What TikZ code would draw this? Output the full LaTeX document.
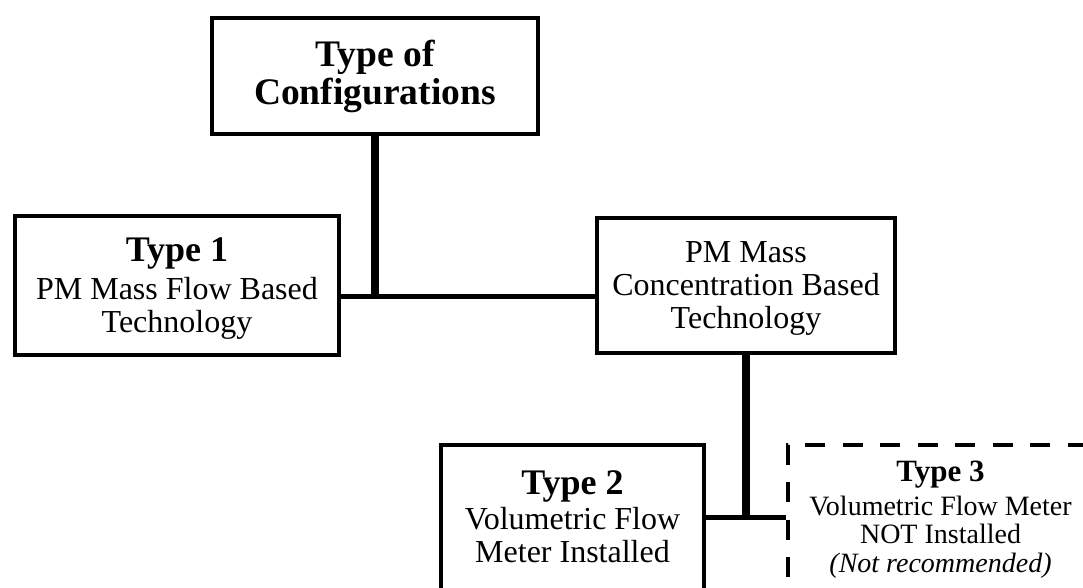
\documentclass[tikz,border=0pt]{standalone}
\usepackage{fontspec}
\setmainfont{Liberation Serif}
\newcommand{\bigb}{\fontsize{37.5}{38}\selectfont\bfseries}
\newcommand{\midb}{\fontsize{36}{38}\selectfont\bfseries}
\newcommand{\body}{\fontsize{32}{33}\selectfont}
\newcommand{\smb}{\fontsize{31}{34}\selectfont\bfseries}
\newcommand{\sm}{\fontsize{28}{28.5}\selectfont}
\tikzset{
  box/.style={draw=black, line width=4pt, fill=white, rectangle, inner sep=0pt},
  dbox/.style={box, dash pattern=on 20pt off 17.5pt, dash phase=30.5pt},
  txt/.style={align=center, inner sep=0pt, text=black},
  vlink/.style={line width=7.5pt, draw=black},
  hlink/.style={line width=5pt, draw=black},
}
\begin{document}
\begin{tikzpicture}[x=1pt,y=-1pt]
\useasboundingbox (0,0) rectangle (1083,587);
\clip (0,0) rectangle (1083,587);
\fill[white] (0,0) rectangle (1083,587);

\node[box, minimum width=326pt, minimum height=116pt] (top) at (375,76) {};
\node[txt, font=\bigb] (toptxt) at (top.center) {Type of\\Configurations};

\node[box, minimum width=324pt, minimum height=139pt] (t1) at (177,285.5) {};
\node[txt, font=\body] (t1txt) at ([yshift=-3pt]t1.center)
  {{\midb Type 1}\\[5pt]PM Mass Flow Based\\Technology};

\node[box, minimum width=298pt, minimum height=135pt] (pm) at (746,285.5) {};
\node[txt, font=\body] (pmtxt) at ([yshift=-2.5pt]pm.center)
  {PM Mass\\Concentration Based\\Technology};

\node[box, minimum width=263pt, minimum height=145pt] (t2) at (572.5,517) {};
\node[txt, font=\body] (t2txt) at (t2.center)
  {{\midb Type 2}\\[2pt]Volumetric Flow\\Meter Installed};

\node[dbox, minimum width=306pt, minimum height=145pt] (t3) at (940.5,517) {};
\node[txt, font=\sm] (t3txt) at ([yshift=-2.5pt]t3.center)
  {{\smb Type 3}\\[5pt]Volumetric Flow Meter\\NOT Installed\\\textit{(Not recommended)}};

\path ([yshift=-10.5pt]t1.east) coordinate (h1);
\path ([yshift=-10.5pt]pm.west) coordinate (h2);
\draw[hlink] (h1) -- (h2);
\draw[vlink] (top.south) -- (top.south |- h1);
\draw[vlink] (pm.south) -- (pm.south |- t2.east);
\draw[hlink] (t2.east) -- (t3.west);
\end{tikzpicture}
\end{document}
